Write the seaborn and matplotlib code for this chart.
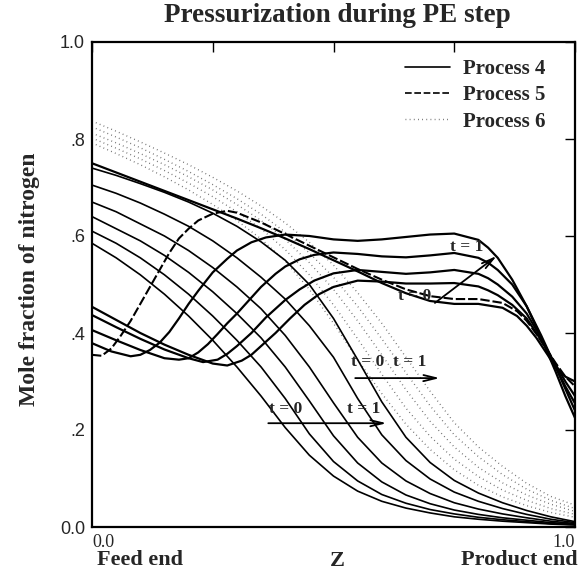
import matplotlib
matplotlib.use("Agg")
import matplotlib.pyplot as plt
from matplotlib.lines import Line2D
import pandas as pd
import seaborn as sns

# ---- axial position (0 = feed end, 1 = product end) ----
Z21 = [0.0, 0.05, 0.1, 0.15, 0.2, 0.25, 0.3, 0.35, 0.4, 0.45, 0.5,
       0.55, 0.6, 0.65, 0.7, 0.75, 0.8, 0.85, 0.9, 0.95, 1.0]

# ---- Process 4: breakthrough-type profiles (solid) ----
A1 = [0.585, 0.555, 0.52, 0.48, 0.435, 0.385, 0.33, 0.27, 0.205, 0.148, 0.105,
      0.074, 0.053, 0.039, 0.029, 0.021, 0.016, 0.012, 0.009, 0.006, 0.004]
A2 = [0.61, 0.585, 0.555, 0.52, 0.48, 0.435, 0.385, 0.33, 0.265, 0.192, 0.135,
      0.095, 0.067, 0.049, 0.036, 0.027, 0.02, 0.015, 0.011, 0.007, 0.005]
A3 = [0.64, 0.615, 0.59, 0.56, 0.525, 0.485, 0.44, 0.39, 0.33, 0.26, 0.188,
      0.132, 0.093, 0.066, 0.048, 0.035, 0.026, 0.019, 0.014, 0.009, 0.006]
A4 = [0.67, 0.65, 0.625, 0.6, 0.57, 0.535, 0.495, 0.45, 0.395, 0.33, 0.256,
      0.185, 0.132, 0.095, 0.069, 0.05, 0.037, 0.027, 0.019, 0.012, 0.007]
A5 = [0.705, 0.688, 0.668, 0.645, 0.62, 0.59, 0.555, 0.515, 0.47, 0.415, 0.35,
      0.265, 0.19, 0.137, 0.099, 0.072, 0.053, 0.038, 0.026, 0.016, 0.009]
A6 = [0.74, 0.725, 0.708, 0.69, 0.67, 0.647, 0.62, 0.588, 0.55, 0.5, 0.43,
      0.345, 0.258, 0.185, 0.133, 0.096, 0.07, 0.05, 0.034, 0.021, 0.011]

# ---- Process 4: moving-front profiles (solid) ----
W0_Z = [0, .05, .1, .15, .2, .25, .3, .35, .4, .45, .5, .55, .6, .65, .7,
        .75, .8, .85, .88, .9, .92, .94, .96, .98, 1.0]
W0_Y = [.75, .731, .712, .693, .674, .655, .636, .616, .595, .573, .55, .527,
        .503, .482, .466, .46, .46, .452, .435, .415, .39, .36, .33, .31, .30]
W1_Z = [0, .04, .08, .1, .12, .14, .16, .18, .2, .22, .25, .28, .3, .33, .36,
        .4, .45, .5, .55, .6, .65, .7, .75, .8, .82, .84, .87, .9, .93, .96,
        .98, 1.0]
W1_Y = [.379, .362, .352, .355, .365, .38, .402, .43, .46, .487, .525, .553,
        .57, .587, .597, .603, .6, .593, .59, .593, .598, .603, .605, .592,
        .576, .555, .51, .455, .39, .32, .27, .225]
W2_Z = [0, .05, .1, .15, .18, .2, .22, .24, .26, .28, .3, .32, .35, .38, .4,
        .43, .46, .5, .55, .6, .65, .7, .75, .8, .82, .84, .87, .9, .93, .96,
        .98, 1.0]
W2_Y = [.406, .385, .365, .348, .345, .348, .36, .377, .398, .42, .44, .462,
        .495, .522, .537, .552, .561, .566, .563, .558, .556, .56, .565, .555,
        .545, .53, .5, .455, .395, .33, .285, .24]
W3_Z = [0, .05, .1, .15, .2, .23, .26, .28, .3, .33, .36, .4, .43, .46, .5,
        .55, .6, .65, .7, .75, .8, .82, .84, .87, .9, .93, .96, .98, 1.0]
W3_Y = [.437, .412, .388, .366, .348, .34, .345, .357, .373, .4, .432, .468,
        .49, .508, .523, .53, .526, .522, .525, .53, .522, .513, .5, .475, .44,
        .39, .33, .29, .255]
W4_Z = [0, .05, .1, .15, .2, .25, .28, .31, .33, .35, .38, .41, .44, .47, .5,
        .55, .6, .65, .7, .75, .8, .82, .84, .87, .9, .93, .96, .98, 1.0]
W4_Y = [.454, .427, .4, .376, .355, .337, .333, .343, .355, .373, .4, .43,
        .458, .48, .495, .508, .506, .502, .502, .503, .496, .488, .478, .458,
        .43, .385, .335, .3, .27]

# ---- Process 5 (dashed) ----
P5_Z = [0, .02, .04, .06, .08, .1, .12, .14, .16, .18, .2, .22, .25, .28, .3,
        .35, .4, .45, .5, .55, .6, .65, .7, .75, .8, .85, .88, .9, .92, .94,
        .96, .98, 1.0]
P5_Y = [.355, .353, .368, .395, .425, .46, .495, .53, .565, .595, .615, .632,
        .646, .652, .648, .628, .604, .58, .556, .532, .51, .49, .476, .47,
        .47, .462, .445, .425, .398, .368, .338, .31, .29]

# ---- Process 6 (dotted) ----
D1 = [0.792, 0.77, 0.747, 0.722, 0.695, 0.665, 0.632, 0.594, 0.548, 0.49, 0.42,
      0.345, 0.275, 0.212, 0.16, 0.118, 0.086, 0.062, 0.044, 0.03, 0.02]
D2 = [0.802, 0.781, 0.759, 0.735, 0.709, 0.681, 0.65, 0.615, 0.572, 0.52, 0.458,
      0.388, 0.315, 0.245, 0.187, 0.14, 0.104, 0.076, 0.055, 0.038, 0.026]
D3 = [0.812, 0.792, 0.77, 0.747, 0.722, 0.695, 0.665, 0.632, 0.593, 0.545, 0.49,
      0.425, 0.355, 0.283, 0.218, 0.165, 0.123, 0.091, 0.066, 0.047, 0.032]
D4 = [0.825, 0.804, 0.782, 0.758, 0.733, 0.706, 0.677, 0.645, 0.608, 0.565, 0.515,
      0.455, 0.388, 0.318, 0.25, 0.19, 0.145, 0.108, 0.078, 0.055, 0.038]
D5 = [0.837, 0.816, 0.794, 0.771, 0.747, 0.721, 0.693, 0.662, 0.627, 0.587, 0.54,
      0.483, 0.42, 0.35, 0.28, 0.215, 0.165, 0.125, 0.09, 0.063, 0.045]

Y_TICKS = [0.0, 0.2, 0.4, 0.6, 0.8, 1.0]
Y_LABELS = ["0.0", ".2", ".4", ".6", ".8", "1.0"]
X_TICKS = [0.0, 0.25, 0.5, 0.75, 1.0]
X_LABELS = ["0.0", "", "", "", "1.0"]
LEGEND_LABELS = ["Process 4", "Process 5", "Process 6"]


def long_frame(curves):
    parts = [pd.DataFrame({"z": zs, "y": ys, "curve": name})
             for name, (zs, ys) in curves.items()]
    return pd.concat(parts, ignore_index=True)


front = long_frame({"A1": (Z21, A1), "A2": (Z21, A2), "A3": (Z21, A3),
                    "A4": (Z21, A4), "A5": (Z21, A5), "A6": (Z21, A6)})
waves = long_frame({"W0": (W0_Z, W0_Y), "W1": (W1_Z, W1_Y),
                    "W2": (W2_Z, W2_Y), "W3": (W3_Z, W3_Y),
                    "W4": (W4_Z, W4_Y)})
dashed = long_frame({"P5": (P5_Z, P5_Y)})
dotted = long_frame({"D1": (Z21, D1), "D2": (Z21, D2), "D3": (Z21, D3),
                     "D4": (Z21, D4), "D5": (Z21, D5)})

sns.set_style("white")
plt.rcParams["font.family"] = ["Liberation Serif", "DejaVu Serif"]
plt.rcParams["lines.solid_joinstyle"] = "round"

fig = plt.figure(figsize=(5.82, 5.77), dpi=100)
ax = fig.add_axes([92 / 582, 50 / 577, 483 / 582, 485 / 577])

DASH5 = (0, (4.5, 1.4))
DOT6 = (0, (0.6, 2.4))

sns.lineplot(data=dotted, x="z", y="y", units="curve", estimator=None,
             sort=False, color="#666666", lw=1.0, linestyle=DOT6, ax=ax,
             legend=False)
sns.lineplot(data=front, x="z", y="y", units="curve", estimator=None,
             sort=False, color="black", lw=1.2, ax=ax, legend=False)
sns.lineplot(data=waves, x="z", y="y", units="curve", estimator=None,
             sort=False, color="black", lw=1.6, ax=ax, legend=False)
sns.lineplot(data=dashed, x="z", y="y", units="curve", estimator=None,
             sort=False, color="black", lw=1.5, linestyle=DASH5, ax=ax,
             legend=False)

ax.set_xlim(0, 1)
ax.set_ylim(0, 1)
ax.set_xlabel("")
ax.set_ylabel("")
ax.set_yticks(Y_TICKS)
ax.set_yticklabels(Y_LABELS, fontfamily="Liberation Sans", fontsize=13)
ax.set_xticks(X_TICKS)
ax.set_xticklabels(X_LABELS, fontsize=13)
xt = ax.get_xticklabels()
xt[0].set_horizontalalignment("left")
xt[-1].set_horizontalalignment("right")
ax.tick_params(direction="in", length=7, width=1.0, top=True, right=True,
               color="black")
ax.tick_params(axis="x", pad=5)
ax.tick_params(axis="y", pad=5)
for sp in ax.spines.values():
    sp.set_linewidth(1.6)
    sp.set_color("black")

# time-direction arrows and labels
arrow = dict(arrowstyle="->,head_length=0.9,head_width=0.22", lw=1.3,
             color="black", shrinkA=0, shrinkB=0)
ax.annotate("", xy=(0.838, 0.559), xytext=(0.71, 0.462), arrowprops=arrow)
ax.annotate("", xy=(0.72, 0.307), xytext=(0.545, 0.307), arrowprops=arrow)
ax.annotate("", xy=(0.61, 0.214), xytext=(0.365, 0.214), arrowprops=arrow)
tkw = dict(ha="center", va="center", fontsize=12.5, fontweight="bold")
ax.text(0.775, 0.578, "t = 1", **tkw)
ax.text(0.668, 0.476, "t = 0", **tkw)
ax.text(0.614, 0.34, "t = 0  t = 1", **tkw)
ax.text(0.40, 0.243, "t = 0", **tkw)
ax.text(0.562, 0.243, "t = 1", **tkw)

handles = [Line2D([], [], color="black", lw=1.2),
           Line2D([], [], color="black", lw=1.2, linestyle=(0, (4, 1.6))),
           Line2D([], [], color="#666666", lw=1.0, linestyle=DOT6)]
leg = ax.legend(handles, LEGEND_LABELS, loc="upper right",
                bbox_to_anchor=(0.956, 0.982), borderaxespad=0.0,
                frameon=False, handlelength=2.2, handletextpad=0.6,
                labelspacing=0.3,
                prop={"family": "Liberation Serif", "weight": "bold",
                      "size": 15})

fig.text(337 / 582, 1 - 15 / 577, "Pressurization during PE step",
         ha="center", va="center", fontsize=19.5, fontweight="bold")
fig.text(30 / 582, 1 - 279 / 577, "Mole fraction of nitrogen", rotation=90,
         ha="center", va="center", fontsize=17, fontweight="bold")
fig.text(97 / 582, 1 - 560 / 577, "Feed end", ha="left", va="center",
         fontsize=16, fontweight="bold")
fig.text(337 / 582, 1 - 561 / 577, "Z", ha="center", va="center",
         fontsize=16, fontweight="bold")
fig.text(578 / 582, 1 - 560 / 577, "Product end", ha="right", va="center",
         fontsize=16, fontweight="bold")

fig.savefig("out.png", dpi=100)
